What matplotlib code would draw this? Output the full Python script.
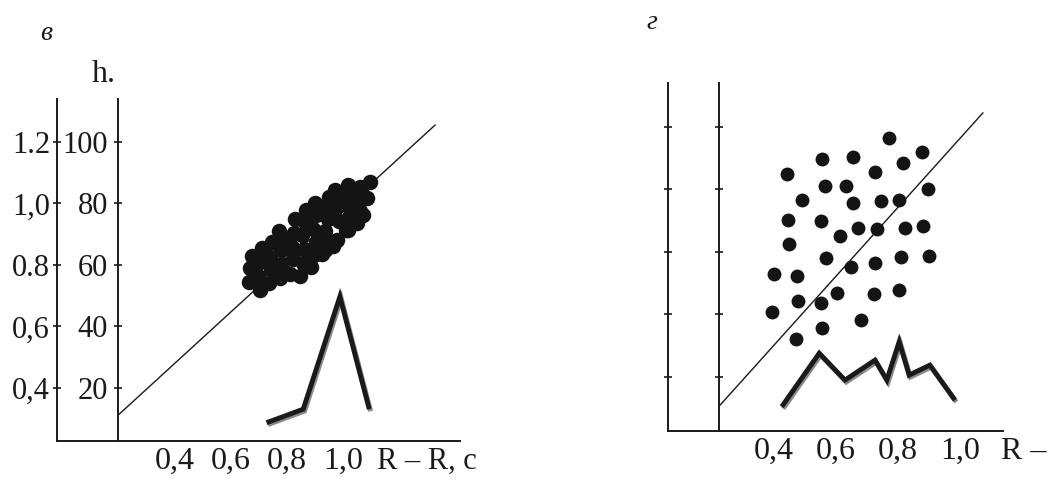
import matplotlib
matplotlib.use("Agg")
import matplotlib.pyplot as plt
import matplotlib.patheffects as pe

plt.rcParams['font.family'] = ['Liberation Serif', 'DejaVu Serif']

# panel "в" -- dense cluster
cl_x = [0.665, 0.668, 0.675,
        0.705, 0.698, 0.702, 0.710,
        0.735, 0.742, 0.738, 0.748,
        0.775, 0.783, 0.778, 0.786, 0.772,
        0.812, 0.823, 0.817, 0.826, 0.829,
        0.848, 0.858, 0.862, 0.855, 0.865, 0.868,
        0.885, 0.895, 0.902, 0.893, 0.905, 0.900,
        0.925, 0.936, 0.940, 0.935, 0.945, 0.932, 0.950,
        0.965, 0.977, 0.985, 0.975, 0.990, 0.971,
        1.012, 1.018, 1.022, 1.015, 1.025, 1.018,
        1.050, 1.062, 1.055, 1.065, 1.061,
        1.071, 1.085, 1.096]
cl_y = [54.5, 59.0, 63.0,
        52.0, 56.5, 61.0, 65.5,
        54.0, 58.3, 62.6, 67.5,
        55.8, 60.2, 64.8, 69.0, 71.0,
        57.2, 61.8, 66.0, 70.5, 75.0,
        56.3, 60.8, 65.3, 69.8, 74.0, 78.0,
        59.3, 63.2, 67.5, 71.8, 76.2, 80.2,
        63.5, 64.9, 67.8, 71.0, 75.0, 78.8, 82.0,
        66.2, 68.1, 74.2, 78.5, 82.5, 84.4,
        71.5, 71.4, 75.5, 79.5, 83.0, 86.0,
        73.6, 77.5, 81.0, 85.0, 85.4,
        76.3, 81.8, 87.0]
trend_v_x = [0.201, 1.329]
trend_v_y = [11.5, 105.5]
dist_v_x = [0.727, 0.858, 0.989, 1.094]
dist_v_y = [8.7, 13.1, 49.7, 13.1]

# panel "г" -- scattered points
sc_x = [0.441, 0.556, 0.654, 0.771, 0.877, 0.816, 0.727, 0.566, 0.631, 0.896,
        0.490, 0.656, 0.746, 0.805, 0.446, 0.551, 0.670, 0.733, 0.824, 0.882,
        0.612, 0.449, 0.569, 0.647, 0.726, 0.810, 0.901, 0.401, 0.473, 0.476,
        0.551, 0.603, 0.723, 0.804, 0.392, 0.680, 0.554, 0.471]
sc_y = [85.0, 89.9, 90.5, 96.4, 92.1, 88.6, 85.5, 81.1, 81.2, 80.1,
        76.6, 75.8, 76.3, 76.6, 70.2, 70.0, 67.6, 67.3, 67.6, 68.3,
        65.2, 62.7, 58.2, 55.1, 56.6, 58.5, 58.8, 53.0, 52.3, 44.3,
        43.7, 46.8, 46.6, 47.9, 40.7, 38.1, 35.6, 32.1]
trend_g_x = [0.226, 1.074]
trend_g_y = [11.0, 104.5]
dist_g_x = [0.425, 0.546, 0.629, 0.726, 0.764, 0.804, 0.836, 0.903, 0.984]
dist_g_y = [10.5, 27.6, 19.0, 25.4, 19.0, 31.3, 20.6, 23.8, 12.6]

x_ticks = [0.4, 0.6, 0.8, 1.0]
x_labels = ['0,4', '0,6', '0,8', '1,0']
y_ticks = [20, 40, 60, 80, 100]
y_left_labels = ['0,4', '0,6', '0.8', '1,0', '1.2']
y_right_labels = ['20', '40', '60', '80', '100']

FS = 23
YFS = 22
ink = '#1a1a1a'
shadow = [pe.SimpleLineShadow(offset=(1.0, -1.4), shadow_color='#8a8a8a', alpha=1.0),
          pe.Normal()]

fig = plt.figure(figsize=(10.51, 4.83), dpi=100)


def setup(ax, xlim, ylim, inner, labels):
    ax.set_xlim(*xlim)
    ax.set_ylim(*ylim)
    for s in ['top', 'right']:
        ax.spines[s].set_visible(False)
    for s in ['left', 'bottom']:
        ax.spines[s].set_linewidth(1.4)
        ax.spines[s].set_color(ink)
    ax.set_xticks(x_ticks, x_labels)
    ax.tick_params(axis='x', length=0, pad=4, labelsize=FS, labelcolor=ink)
    ax.tick_params(axis='y', direction='inout', length=6, width=1.2,
                   color=ink, labelsize=YFS, labelcolor=ink, pad=2)
    sec = ax.secondary_yaxis(inner)
    sec.spines['left'].set_linewidth(1.4)
    sec.spines['left'].set_color(ink)
    sec.tick_params(axis='y', direction='inout', length=6, width=1.2,
                    color=ink, labelsize=YFS, labelcolor=ink, pad=4)
    if labels:
        ax.set_yticks(y_ticks, y_left_labels)
        sec.set_yticks(y_ticks, y_right_labels)
    else:
        ax.set_yticks(y_ticks, [])
        sec.set_yticks(y_ticks, [])
    return sec


# left panel
ax1 = fig.add_axes([0.05423, 0.08696, 0.38344, 0.70807])
setup(ax1, (-0.0214, 1.418), (2.76, 113.98), 0.151, True)
ax1.plot(trend_v_x, trend_v_y, color=ink, lw=1.0)
ax1.scatter(cl_x, cl_y, s=125, color='#141414', zorder=3, linewidths=0)
ax1.plot(dist_v_x, dist_v_y, color=ink, lw=3.5, solid_joinstyle='miter',
         solid_capstyle='butt', path_effects=shadow)
ax1.annotate('R – R, c', xy=(1.30, 0), xycoords=('data', 'axes fraction'),
             xytext=(0, -4), textcoords='offset points', ha='center', va='top',
             fontsize=FS - 1, color=ink, annotation_clip=False)

# right panel
ax2 = fig.add_axes([0.63559, 0.10766, 0.31874, 0.72050])
setup(ax2, (0.058, 1.139), (2.72, 114.08), 0.152, False)
ax2.plot(trend_g_x, trend_g_y, color=ink, lw=1.0)
ax2.scatter(sc_x, sc_y, s=100, color='#141414', zorder=3, linewidths=0)
ax2.plot(dist_g_x, dist_g_y, color=ink, lw=3.5, solid_joinstyle='miter',
         solid_capstyle='butt', path_effects=shadow)
ax2.annotate('R –', xy=(1.205, 0), xycoords=('data', 'axes fraction'),
             xytext=(0, -4), textcoords='offset points', ha='center', va='top',
             fontsize=FS, color=ink, annotation_clip=False)

fig.text(0.038, 0.917, 'в', fontsize=20, style='italic', color=ink)
fig.text(0.0875, 0.830, 'h.', fontsize=FS, color=ink)
fig.text(0.615, 0.94, 'г', fontsize=20, style='italic', color=ink)

fig.savefig('out.png', dpi=100)
